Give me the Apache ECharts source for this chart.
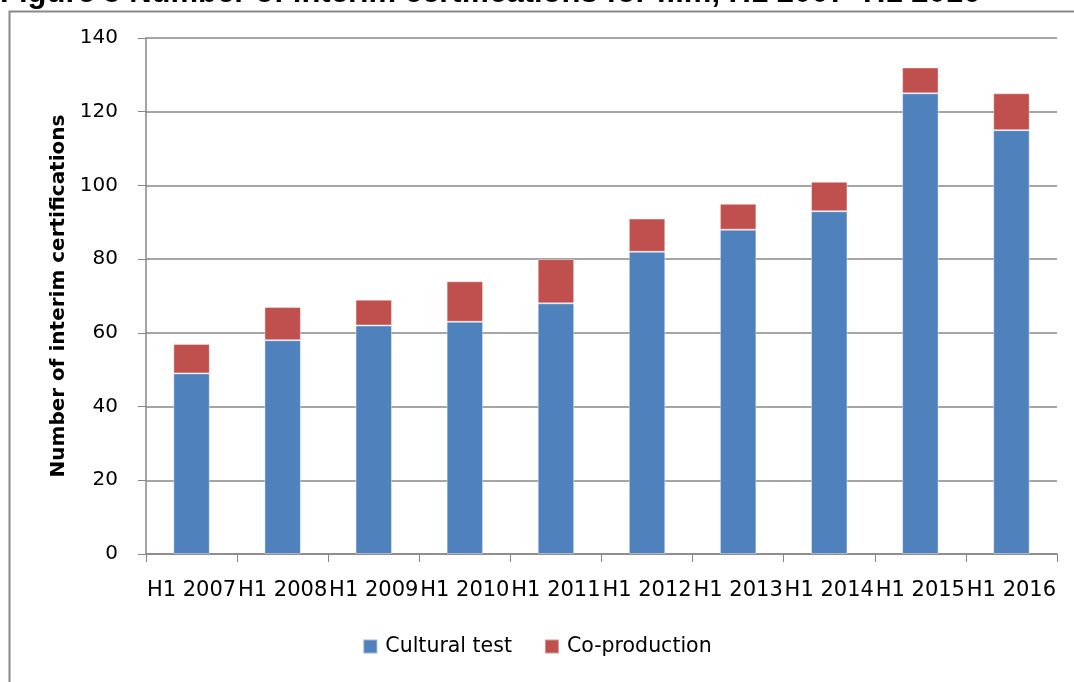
<!DOCTYPE html>
<html>
<head>
<meta charset="utf-8">
<script src="https://cdn.jsdelivr.net/npm/echarts@6/dist/echarts.min.js"></script>
<style>
html,body{margin:0;padding:0;background:#fff;}
#chart{width:1074px;height:682px;}
</style>
</head>
<body>
<div id="chart"></div>
<script>
const categories = ['H1 2007','H1 2008','H1 2009','H1 2010','H1 2011','H1 2012','H1 2013','H1 2014','H1 2015','H1 2016'];
const culturalTest = [49, 58, 62, 63, 68, 82, 88, 93, 125, 115];
const coProduction = [8, 9, 7, 11, 12, 9, 7, 8, 7, 10];
const seriesNames = ['Cultural test', 'Co-production'];
const titleText = 'Figure 5 Number of interim certifications for film, H1 2007\u2013H1 2016';
const yAxisName = 'Number of interim certifications';

const chart = echarts.init(document.getElementById('chart'), null, {renderer: 'canvas'});
const font = '"DejaVu Sans", sans-serif';
chart.setOption({
  animation: false,
  backgroundColor: '#fff',
  graphic: [
    {type: 'rect', left: 7, top: 9, shape: {width: 1200, height: 800}, style: {fill: 'none', stroke: '#898989', lineWidth: 2}},
    {type: 'text', left: 0, top: -22, style: {text: titleText, font: 'bold 31px "Liberation Sans", sans-serif', fill: '#000'}}
  ],
  legend: {
    bottom: 20,
    left: 'center',
    itemWidth: 14,
    itemHeight: 14,
    itemGap: 32,
    icon: 'rect',
    textStyle: {fontFamily: font, fontSize: 20.5, color: '#000', padding: [0, 0, 0, 3]},
    data: seriesNames
  },
  grid: {left: 146, right: 17, top: 38, bottom: 128, containLabel: false},
  xAxis: {
    type: 'category',
    data: categories,
    axisLine: {lineStyle: {color: '#868686', width: 1.5}},
    axisTick: {show: true, length: 8, alignWithLabel: false, lineStyle: {color: '#868686'}},
    axisLabel: {fontFamily: font, fontSize: 21, color: '#000', margin: 26, interval: 0}
  },
  yAxis: {
    type: 'value',
    min: 0, max: 140, interval: 20,
    name: yAxisName,
    nameLocation: 'middle',
    nameGap: 76,
    nameTextStyle: {fontFamily: font, fontSize: 20, fontWeight: 'bold', color: '#000'},
    axisLine: {show: true, lineStyle: {color: '#868686', width: 1.5}},
    axisTick: {show: true, inside: false, length: 8, lineStyle: {color: '#868686'}},
    axisLabel: {fontFamily: font, fontSize: 20, color: '#000', margin: 28},
    splitLine: {lineStyle: {color: '#878787', width: 1.5}}
  },
  series: [
    {name: seriesNames[0], type: 'bar', stack: 'total', data: culturalTest, barWidth: '40%',
     itemStyle: {color: '#4F81BD', borderColor: 'rgba(255,255,255,0.4)', borderWidth: 1}},
    {name: seriesNames[1], type: 'bar', stack: 'total', data: coProduction, barWidth: '40%',
     itemStyle: {color: '#C0504D', borderColor: 'rgba(255,255,255,0.4)', borderWidth: 1}}
  ]
});
</script>
</body>
</html>
